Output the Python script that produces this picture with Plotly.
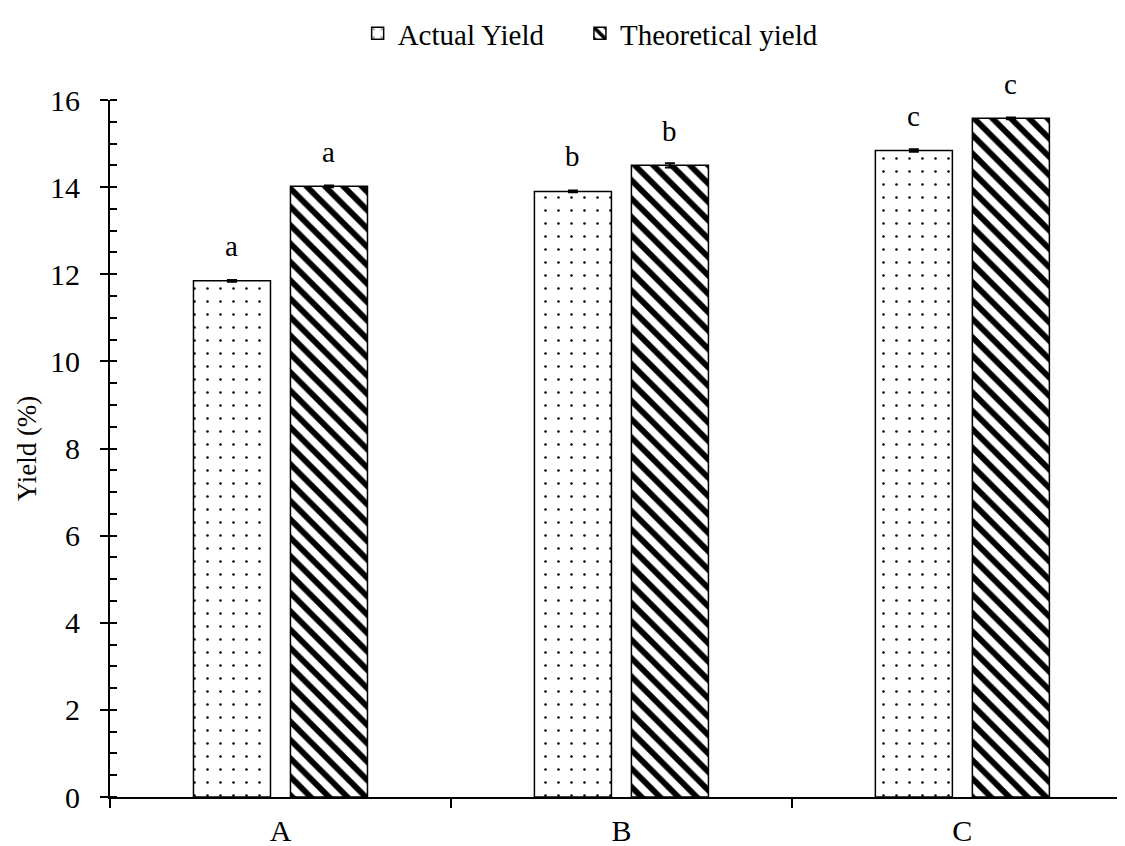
import plotly.graph_objects as go

categories = ["A", "B", "C"]
actual = [11.85, 13.90, 14.84]
actual_err = [0.02, 0.02, 0.03]
theoretical = [14.02, 14.50, 15.58]
theoretical_err = [0.02, 0.05, 0.02]
actual_letters = ["a", "b", "c"]
theoretical_letters = ["a", "b", "c"]
y_ticks = [0, 2, 4, 6, 8, 10, 12, 14, 16]

FONT = "Liberation Serif"

fig = go.Figure()
fig.add_trace(go.Bar(
    x=categories, y=actual, name="Actual Yield", legend="legend",
    marker=dict(color="white", line=dict(color="black", width=1.5),
                pattern=dict(shape=".", fgcolor="black", bgcolor="white", fgopacity=1,
                             size=13, solidity=0.03, fillmode="overlay")),
    error_y=dict(type="data", array=actual_err, visible=True,
                 color="black", thickness=2, width=5),
))
fig.add_trace(go.Bar(
    x=categories, y=theoretical, name="Theoretical yield", legend="legend2",
    marker=dict(color="white", line=dict(color="black", width=1.5),
                pattern=dict(shape="\\", fgcolor="black", bgcolor="white", fgopacity=1,
                             size=13, solidity=0.45, fillmode="overlay")),
    error_y=dict(type="data", array=theoretical_err, visible=True,
                 color="black", thickness=2, width=5),
))

offset = 48.5
for cat, v, lab in zip(categories, actual, actual_letters):
    fig.add_annotation(x=cat, y=v, text=lab, showarrow=False, xshift=-offset,
                       yshift=35, font=dict(family=FONT, size=29, color="black"))
for cat, v, lab in zip(categories, theoretical, theoretical_letters):
    fig.add_annotation(x=cat, y=v, text=lab, showarrow=False, xshift=offset,
                       yshift=34, font=dict(family=FONT, size=29, color="black"))

legend_style = dict(orientation="h", y=1.096, yanchor="middle", xanchor="left",
                    font=dict(family=FONT, size=29), itemwidth=30,
                    bgcolor="rgba(0,0,0,0)")

fig.update_layout(
    width=1117, height=838,
    margin=dict(l=102, r=0, t=87, b=49),
    paper_bgcolor="white", plot_bgcolor="white",
    barmode="group", bargap=0.431, bargroupgap=0.206,
    font=dict(family=FONT, size=29, color="black"),
    legend=dict(x=0.244, **legend_style),
    legend2=dict(x=0.463, **legend_style),
    showlegend=True,
    yaxis2=dict(overlaying="y", anchor="x", side="left", range=[0, 16],
                tickvals=y_ticks, ticks="inside", ticklen=7, tickwidth=2,
                tickcolor="black", showticklabels=False, showgrid=False,
                zeroline=False, showline=False),
)
fig.update_xaxes(
    type="category", range=[-0.5, 2.477],
    showline=True, linecolor="black", linewidth=2,
    ticks="outside", tickson="boundaries", ticklen=9, tickwidth=2, tickcolor="black",
    showgrid=False, zeroline=False, ticklabelstandoff=6,
    tickfont=dict(family=FONT, size=30),
)
fig.layout.yaxis.update(
    range=[0, 16], tickvals=y_ticks,
    showline=True, linecolor="black", linewidth=2,
    ticks="outside", ticklen=8, tickwidth=2, tickcolor="black",
    minor=dict(dtick=0.5, ticks="inside", ticklen=7, tickwidth=2, tickcolor="black", showgrid=False),
    showgrid=False, zeroline=False, ticklabelstandoff=14,
    tickfont=dict(family=FONT, size=30),
    title=dict(text="Yield (%)", font=dict(family=FONT, size=27), standoff=6),
)

fig.write_html("out.html")
